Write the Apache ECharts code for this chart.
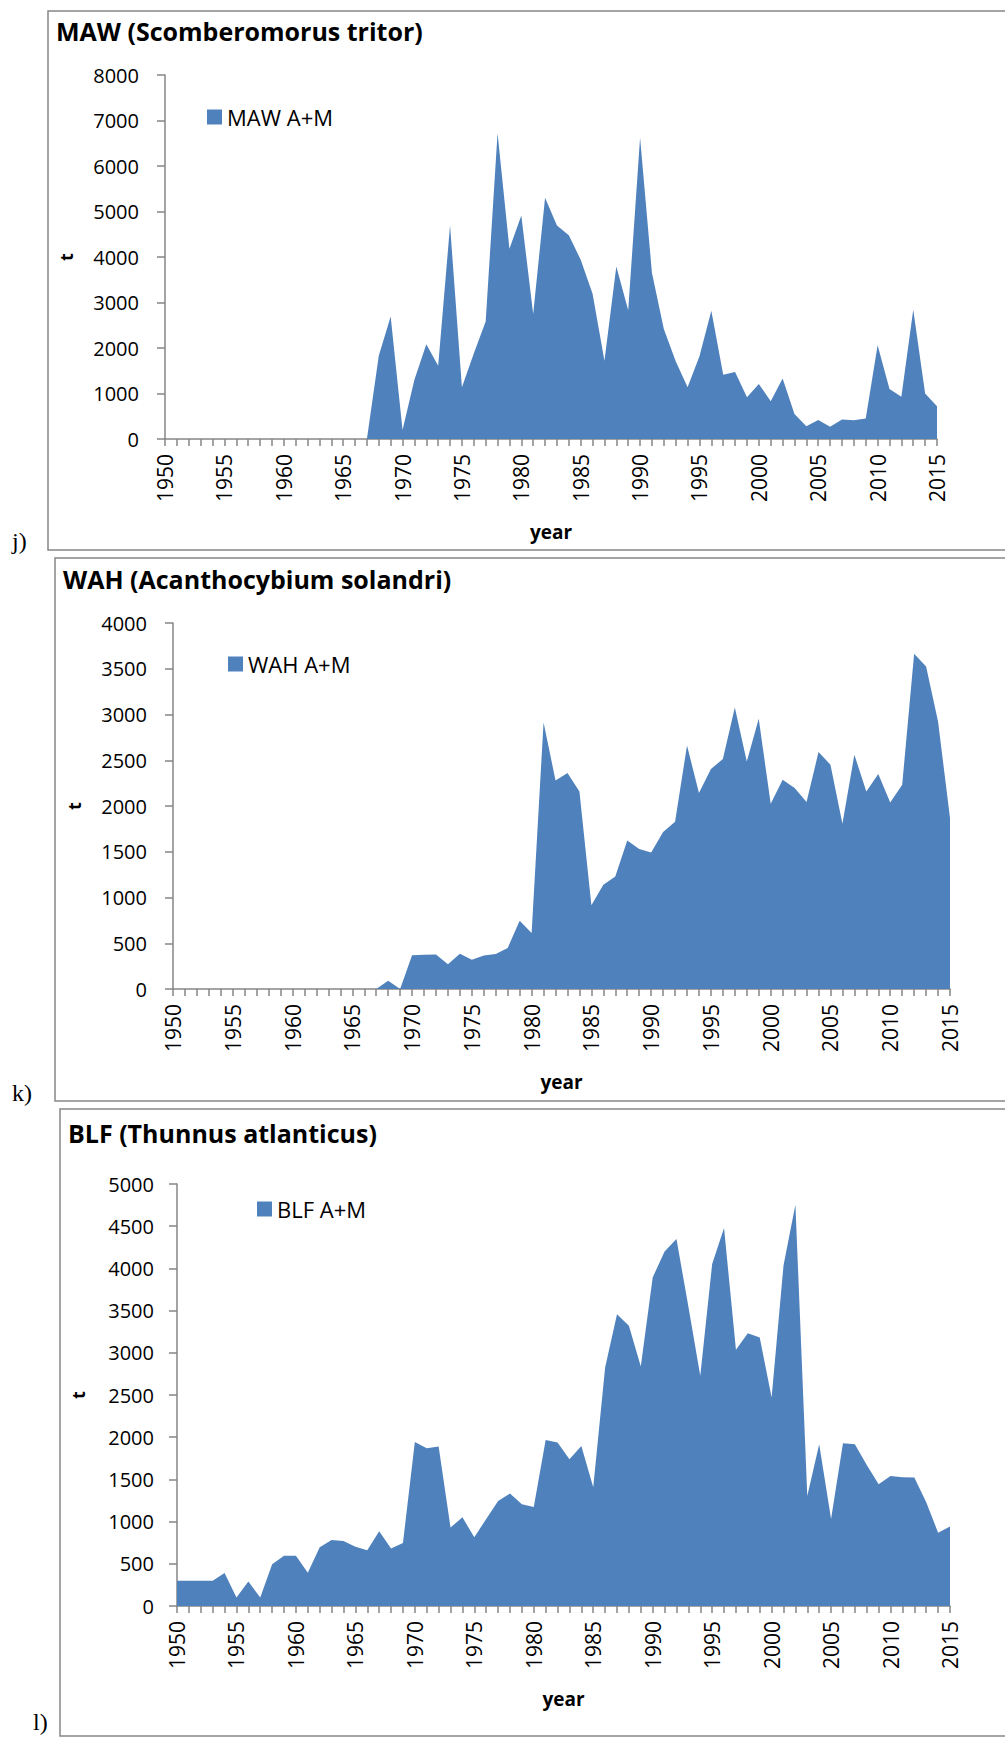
<!DOCTYPE html>
<html>
<head>
<meta charset="utf-8">
<title>Catches A+M: MAW, WAH, BLF</title>
<script src="https://cdn.jsdelivr.net/npm/echarts@6/dist/echarts.min.js"></script>
<style>
  html, body { margin: 0; padding: 0; background: #fff; }
  #chart { width: 1005px; height: 1737px; }
</style>
</head>
<body>
<div id="chart"></div>
<script>
// Years on the category axis
const years = [
  '1950','1951','1952','1953','1954','1955','1956','1957','1958','1959',
  '1960','1961','1962','1963','1964','1965','1966','1967','1968','1969',
  '1970','1971','1972','1973','1974','1975','1976','1977','1978','1979',
  '1980','1981','1982','1983','1984','1985','1986','1987','1988','1989',
  '1990','1991','1992','1993','1994','1995','1996','1997','1998','1999',
  '2000','2001','2002','2003','2004','2005','2006','2007','2008','2009',
  '2010','2011','2012','2013','2014','2015'
];

// MAW (Scomberomorus tritor), t
const mawCatch = [
  0, 0, 0, 0, 0, 0, 0, 0, 0, 0,
  0, 0, 0, 0, 0, 0, 0, 0, 1830, 2690,
  200, 1300, 2080, 1610, 4690, 1140, 1880, 2580, 6720, 4180,
  4910, 2750, 5300, 4690, 4480, 3940, 3190, 1720, 3790, 2830,
  6620, 3650, 2420, 1710, 1140, 1820, 2820, 1410, 1470, 920,
  1210, 830, 1330, 550, 280, 420, 270, 430, 410, 450,
  2060, 1100, 930, 2840, 1000, 720
];

// WAH (Acanthocybium solandri), t
const wahCatch = [
  0, 0, 0, 0, 0, 0, 0, 0, 0, 0,
  0, 0, 0, 0, 0, 0, 0, 0, 90, 0,
  370, 375, 378, 270, 385, 320, 367, 382, 448, 746,
  612, 2913, 2279, 2360, 2159, 914, 1140, 1230, 1624, 1530,
  1493, 1715, 1828, 2662, 2141, 2404, 2513, 3077, 2487, 2953,
  2024, 2287, 2196, 2043, 2589, 2451, 1806, 2560, 2159, 2349,
  2039, 2232, 3663, 3525, 2924, 1868
];

// BLF (Thunnus atlanticus), t
const blfCatch = [
  300, 300, 300, 300, 390, 100, 290, 100, 495, 595,
  595, 395, 696, 782, 771, 703, 660, 885, 680, 747,
  1944, 1869, 1889, 929, 1051, 814, 1031, 1245, 1332, 1205,
  1174, 1968, 1936, 1739, 1897, 1407, 2826, 3458, 3320, 2838,
  3893, 4201, 4347, 3549, 2727, 4051, 4478, 3035, 3233, 3181,
  2470, 4035, 4754, 1304, 1917, 1031, 1929, 1917, 1672, 1442,
  1541, 1525, 1522, 1229, 869, 941
];

const panelTitles = ['MAW (Scomberomorus tritor)', 'WAH (Acanthocybium solandri)', 'BLF (Thunnus atlanticus)'];
const seriesNames = ['MAW A+M', 'WAH A+M', 'BLF A+M'];
const panelLetters = ['j)', 'k)', 'l)'];
const yMax = [8000, 4000, 5000];
const yStep = [1000, 500, 500];

const FONT = 'Open Sans';
const AREA = '#4F81BD';
const AXIS = '#868686';

// Layout of the three panels (pixels)
const panels = [
  { frame: [48, 11, 1000, 539],  grid: [165, 75, 772, 364],   title: [56, 18],   legend: [207, 106],  letter: [12, 529],  labelMargin: 26 },
  { frame: [55, 558, 1000, 543], grid: [173, 623, 777, 366],  title: [63, 566],  legend: [228, 653],  letter: [12, 1081], labelMargin: 26 },
  { frame: [60, 1109, 1000, 627], grid: [177, 1184, 773, 422], title: [68, 1120], legend: [257, 1198], letter: [33, 1710], labelMargin: 23 }
];
const dataSets = [mawCatch, wahCatch, blfCatch];

const option = {
  animation: false,
  backgroundColor: '#fff',
  textStyle: { fontFamily: FONT },
  title: panels.map((p, i) => ({
    text: panelTitles[i],
    left: p.title[0], top: p.title[1],
    padding: 0,
    textStyle: { fontFamily: FONT, fontWeight: 'bold', fontSize: 25, color: '#000' }
  })),
  legend: panels.map((p, i) => ({
    data: [seriesNames[i]],
    left: p.legend[0], top: p.legend[1],
    padding: 0,
    icon: 'rect', itemWidth: 15, itemHeight: 15,
    textStyle: { fontFamily: FONT, fontSize: 22, color: '#000' },
    selectedMode: false
  })),
  grid: panels.map(p => ({ left: p.grid[0], top: p.grid[1], width: p.grid[2], height: p.grid[3], containLabel: false })),
  xAxis: panels.map((p, i) => ({
    type: 'category', gridIndex: i, data: years, boundaryGap: false,
    name: 'year', nameLocation: 'middle', nameGap: 83,
    nameTextStyle: { fontFamily: FONT, fontWeight: 'bold', fontSize: 19, color: '#000' },
    axisLine: { show: true, lineStyle: { color: AXIS, width: 1.5 } },
    axisTick: { show: true, interval: 0, length: 7, lineStyle: { color: AXIS, width: 1.5 } },
    axisLabel: { interval: 4, rotate: 90, fontSize: 21, margin: 15, color: '#000', fontFamily: FONT, hideOverlap: false },
    splitLine: { show: false }
  })),
  yAxis: panels.map((p, i) => ({
    type: 'value', gridIndex: i, min: 0, max: yMax[i], interval: yStep[i],
    name: 't', nameLocation: 'middle', nameGap: 90, nameRotate: 90,
    nameTextStyle: { fontFamily: FONT, fontWeight: 'bold', fontSize: 18, color: '#000' },
    axisLine: { show: true, lineStyle: { color: AXIS, width: 1.5 } },
    axisTick: { show: true, length: 8, lineStyle: { color: AXIS, width: 1.5 } },
    axisLabel: { fontSize: 20, margin: p.labelMargin, color: '#000', fontFamily: FONT, formatter: v => String(v) },
    splitLine: { show: false }
  })),
  series: dataSets.map((d, i) => ({
    name: seriesNames[i], type: 'line', xAxisIndex: i, yAxisIndex: i,
    data: d, showSymbol: false, symbol: 'none', smooth: false,
    lineStyle: { width: 0, color: AREA },
    itemStyle: { color: AREA },
    areaStyle: { color: AREA, opacity: 1 },
    z: 1
  })),
  graphic: panels.flatMap((p, i) => ([
    {
      type: 'rect', silent: true, z: -1,
      shape: { x: p.frame[0], y: p.frame[1], width: p.frame[2], height: p.frame[3] },
      style: { fill: 'none', stroke: AXIS, lineWidth: 1.5 }
    },
    {
      type: 'text', silent: true,
      left: p.letter[0], top: p.letter[1],
      style: { text: panelLetters[i], font: '24px "Liberation Serif"', fill: '#000' }
    }
  ]))
};

const chart = echarts.init(document.getElementById('chart'), null, { renderer: 'svg', width: 1005, height: 1737 });
chart.setOption(option);
</script>
</body>
</html>
